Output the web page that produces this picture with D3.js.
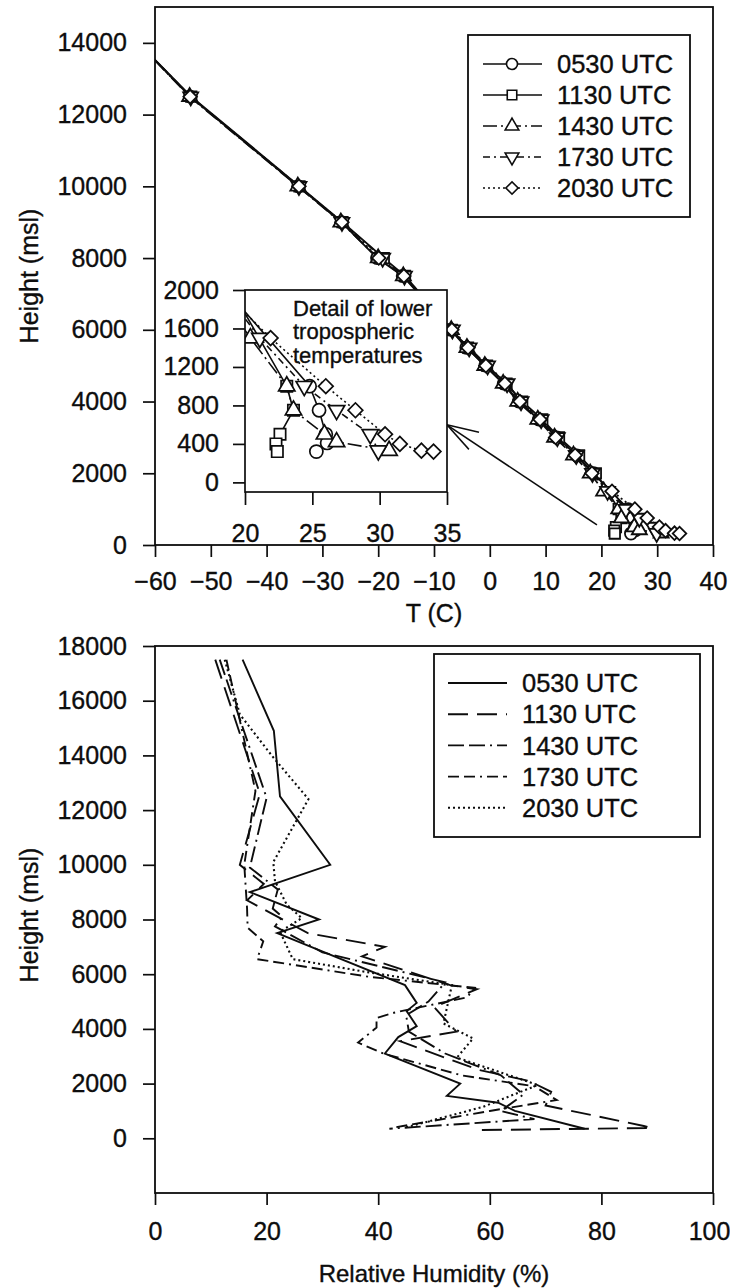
<!DOCTYPE html>
<html><head><meta charset="utf-8">
<script src="https://cdn.jsdelivr.net/npm/d3@7"></script>
<style>
body{margin:0;background:#fff}
svg{display:block}
text{font-family:"Liberation Sans",Arial,sans-serif;fill:#0d0d0d;stroke:#0d0d0d;stroke-width:0.35px}
</style>
</head><body>
<svg id="c" width="730" height="1288"></svg>
<script>
// ---------------- DATA ----------------
const seriesNames = ["0530 UTC", "1130 UTC", "1430 UTC", "1730 UTC", "2030 UTC"];
const seriesSymbols = ["circle", "square", "triangle", "triDown", "diamond"];

// Temperature profiles: [T (C), height (m msl)]
const temp0530 = [[-63,14000],[-53.7,12500],[-34.3,10000],[-26.6,9000],[-20.2,8000],[-15.6,7500],[-7.0,6000],[-4.2,5500],[-0.8,5000],[2.5,4500],[5.2,4000],[8.8,3500],[12.0,3000],[15.6,2500],[18.6,2000],[24.8,1000],[25.5,750],[26.0,500],[26.1,410],[25.3,320]];
const temp1130 = [[-63,14000],[-53.5,12500],[-34.1,10000],[-26.4,9000],[-19.0,8000],[-15.2,7500],[-6.8,6000],[-3.9,5500],[-0.5,5000],[3.0,4500],[5.8,4000],[9.4,3500],[12.4,3000],[16.0,2500],[19.0,2000],[23.1,1000],[23.6,750],[22.6,500],[22.3,400],[22.4,320]];
const temp1430 = [[-63,14000],[-53.8,12500],[-34.4,10000],[-26.7,9000],[-20.0,8000],[-15.5,7500],[-6.9,6000],[-4.1,5500],[-0.9,5000],[2.4,4500],[5.0,4000],[8.6,3500],[11.6,3000],[15.0,2500],[18.0,2000],[20.4,1500],[23.1,1000],[23.6,750],[25.9,500],[26.8,420],[30.7,330]];
const temp1730 = [[-63,14000],[-53.6,12500],[-34.2,10000],[-26.5,9000],[-19.2,8000],[-15.3,7500],[-6.7,6000],[-3.7,5500],[-0.4,5000],[3.1,4500],[5.6,4000],[9.2,3500],[12.1,3000],[15.5,2500],[18.4,2000],[21.1,1500],[24.4,1000],[26.8,750],[29.3,500],[29.9,330]];
const temp2030 = [[-63,14000],[-53.7,12500],[-34.2,10000],[-26.5,9000],[-19.9,8000],[-15.4,7500],[-6.8,6000],[-3.9,5500],[-0.7,5000],[2.7,4500],[5.4,4000],[9.0,3500],[11.8,3000],[15.3,2500],[18.3,2000],[21.9,1500],[26.0,1000],[28.2,750],[30.4,500],[31.5,400],[33.1,330],[34.0,320]];

// Relative humidity profiles: [RH (%), height (m msl)]
const rh0530 = [[15.7,17500],[21.3,14900],[22.4,12500],[31.4,10000],[17.0,9000],[29.4,8000],[21.9,7500],[44.8,5600],[46.9,4950],[45.1,4650],[46.9,4100],[43.6,3700],[41.2,3100],[54.7,2000],[52.3,1550],[61.5,1300],[64.5,1000],[77.0,350]];
const rh1130 = [[10.8,17500],[18.8,12600],[15.2,10000],[19.5,9300],[16.5,8700],[27.4,7500],[41.2,7000],[37.1,6650],[52.9,5600],[57.7,5450],[50.0,4800],[54.0,3900],[43.9,3550],[58.0,2500],[67.0,2100],[71.0,1700],[70.0,1200],[87.6,450],[89.0,380],[58.0,300]];
const rh1430 = [[11.6,17500],[20.0,12450],[17.0,9900],[22.0,9100],[21.1,8400],[22.8,8100],[21.5,7750],[30.0,6800],[52.0,5700],[49.0,5000],[45.0,4500],[45.5,3900],[52.0,3100],[62.0,2300],[66.0,1600],[62.0,1000],[68.0,700],[42.0,350]];
const rh1730 = [[12.8,17500],[18.0,12700],[16.0,10000],[16.5,8400],[16.6,7700],[19.4,7200],[18.3,6550],[38.5,5900],[57.3,5500],[55.9,5150],[43.0,4600],[39.7,4400],[39.7,4050],[36.4,3500],[40.9,3100],[55.0,2300],[68.0,1900],[72.0,1400],[60.0,1000],[42.5,380]];
const rh2030 = [[12.5,17500],[15.2,15500],[20.9,14000],[27.5,12400],[21.2,10100],[21.5,9400],[23.6,8550],[26.3,8050],[22.4,7550],[24.7,6550],[37.3,6100],[53.2,5600],[51.7,4200],[57.0,3650],[54.1,2950],[68.6,1950],[58.8,1150],[45.0,400]];

// Tick labels
const tempXTicks = [-60,-50,-40,-30,-20,-10,0,10,20,30,40];
const tempYTicks = [0,2000,4000,6000,8000,10000,12000,14000];
const insetXTicks = [20,25,30,35];
const insetYTicks = [0,400,800,1200,1600,2000];
const rhXTicks = [0,20,40,60,80,100];
const rhYTicks = [0,2000,4000,6000,8000,10000,12000,14000,16000,18000];

const insetText = ["Detail of lower", "tropospheric", "temperatures"];

// ---------------- DRAWING ----------------
const tempData = [temp0530, temp1130, temp1430, temp1730, temp2030];
const rhData = [rh0530, rh1130, rh1430, rh1730, rh2030];
const tempDash = [null, null, "14,4,2,4", "7,4,2,4", "2,3"];
const rhDash = [null, "20,9", "16,5,16,5,2,5", "11,5,11,5,2,5", "2,3"];
const ink = "#0d0d0d";
const FS = 25;

const svg = d3.select("#c");

function symbolPath(kind, size) {
  const t = {circle:d3.symbolCircle, square:d3.symbolSquare, triangle:d3.symbolTriangle,
             triDown:d3.symbolTriangle, diamond:d3.symbolSquare}[kind];
  const s = {circle:size, square:size*0.95, triangle:size*0.85, triDown:size*0.85, diamond:size*0.8}[kind];
  return d3.symbol().type(t).size(s)();
}
function symbolRot(kind){ return kind==="triDown"?180:(kind==="diamond"?45:0); }

function styleAxis(g, fs) {
  g.select(".domain").remove();
  g.selectAll(".tick line").attr("stroke", ink).attr("stroke-width", 1.7);
  g.selectAll(".tick text").attr("font-size", fs).attr("fill", ink)
    .style("font-family", '"Liberation Sans",Arial,sans-serif');
}

// ===== TOP CHART =====
const tx = d3.scaleLinear().domain([-60,40]).range([155,713]);
const ty = d3.scaleLinear().domain([0,15000]).range([545,7]);

svg.append("clipPath").attr("id","clipTop").append("rect")
  .attr("x",tx.range()[0]).attr("y",ty.range()[1])
  .attr("width",tx.range()[1]-tx.range()[0]).attr("height",ty.range()[0]-ty.range()[1]);

const topPlot = svg.append("g").attr("clip-path","url(#clipTop)");
const tLine = d3.line().x(d=>tx(d[0])).y(d=>ty(d[1]));
tempData.forEach((s,i)=>{
  topPlot.append("path").attr("d",tLine(s)).attr("fill","none")
    .attr("stroke",ink).attr("stroke-width",1.8)
    .attr("stroke-dasharray",tempDash[i]);
});
tempData.forEach((s,i)=>{
  topPlot.selectAll(null).data(s).enter().append("path")
    .attr("d",symbolPath(seriesSymbols[i],115))
    .attr("transform",d=>`translate(${tx(d[0])},${ty(d[1])}) rotate(${symbolRot(seriesSymbols[i])})`)
    .attr("fill","#fff").attr("stroke",ink).attr("stroke-width",1.8);
});

svg.append("rect").attr("x",155).attr("y",7).attr("width",558).attr("height",538)
  .attr("fill","none").attr("stroke",ink).attr("stroke-width",1.8);

svg.append("g").attr("transform",`translate(0,${ty.range()[0]})`)
  .call(d3.axisBottom(tx).tickValues(tempXTicks).tickSize(12).tickPadding(15).tickFormat(d3.format("d")))
  .call(g=>styleAxis(g,FS));
svg.append("g").attr("transform",`translate(${tx.range()[0]},0)`)
  .call(d3.axisLeft(ty).tickValues(tempYTicks).tickSize(12).tickPadding(16).tickFormat(d3.format("d")))
  .call(g=>styleAxis(g,FS));

svg.append("text").attr("x",434).attr("y",622).attr("text-anchor","middle")
  .attr("font-size",FS).text("T (C)");
svg.append("text").attr("transform","translate(38,276) rotate(-90)").attr("text-anchor","middle")
  .attr("font-size",FS).text("Height (msl)");

// Legend (top)
const lgT = svg.append("g");
lgT.append("rect").attr("x",468).attr("y",35).attr("width",222).attr("height",182)
  .attr("fill","#fff").attr("stroke",ink).attr("stroke-width",1.8);
seriesNames.forEach((n,i)=>{
  const y = 64 + i*31;
  lgT.append("line").attr("x1",483).attr("x2",542).attr("y1",y).attr("y2",y)
    .attr("stroke",ink).attr("stroke-width",1.7).attr("stroke-dasharray",tempDash[i]);
  lgT.append("path").attr("d",symbolPath(seriesSymbols[i],95))
    .attr("transform",`translate(512,${y}) rotate(${symbolRot(seriesSymbols[i])})`)
    .attr("fill","#fff").attr("stroke",ink).attr("stroke-width",1.6);
  lgT.append("text").attr("x",557).attr("y",y).attr("dy","0.36em")
    .attr("font-size",FS+0.5).text(n);
});

// Arrow pointing from cluster to inset
const arrowStart = [19.2, 560], arrowTip = [-7.7, 3350];
{
  const x1 = tx(arrowStart[0]), y1 = ty(arrowStart[1]);
  const x2 = tx(arrowTip[0]), y2 = ty(arrowTip[1]);
  svg.append("line").attr("x1",x1).attr("y1",y1).attr("x2",x2).attr("y2",y2)
    .attr("stroke",ink).attr("stroke-width",1.6);
  const a = Math.atan2(y1-y2, x1-x2);
  [-0.36, 0.25].forEach(da=>{
    svg.append("line").attr("x1",x2).attr("y1",y2)
      .attr("x2",x2+33*Math.cos(a+da)).attr("y2",y2+33*Math.sin(a+da))
      .attr("stroke",ink).attr("stroke-width",1.5);
  });
}

// ===== INSET =====
const ix = d3.scaleLinear().domain([20,35]).range([245,447]);
const iy = d3.scaleLinear().domain([-100,2000]).range([492,290]);
svg.append("rect").attr("x",245).attr("y",290).attr("width",202).attr("height",202).attr("fill","#fff");
svg.append("clipPath").attr("id","clipIn").append("rect")
  .attr("x",245).attr("y",290).attr("width",202).attr("height",202);
const inPlot = svg.append("g").attr("clip-path","url(#clipIn)");
const iLine = d3.line().x(d=>ix(d[0])).y(d=>iy(d[1]));
tempData.forEach((s,i)=>{
  inPlot.append("path").attr("d",iLine(s)).attr("fill","none")
    .attr("stroke",ink).attr("stroke-width",1.6).attr("stroke-dasharray",tempDash[i]);
});
tempData.forEach((s,i)=>{
  inPlot.selectAll(null).data(s).enter().append("path")
    .attr("d",symbolPath(seriesSymbols[i],135))
    .attr("transform",d=>`translate(${ix(d[0])},${iy(d[1])}) rotate(${symbolRot(seriesSymbols[i])})`)
    .attr("fill","#fff").attr("stroke",ink).attr("stroke-width",1.7);
});
insetText.forEach((t,k)=>{
  svg.append("text").attr("x",293).attr("y",308+k*23.5).attr("dy","0.36em")
    .attr("font-size",22).text(t);
});
svg.append("rect").attr("x",245).attr("y",290).attr("width",202).attr("height",202)
  .attr("fill","none").attr("stroke",ink).attr("stroke-width",1.7);
svg.append("g").attr("transform","translate(0,492)")
  .call(d3.axisBottom(ix).tickValues(insetXTicks).tickSize(13).tickPadding(19).tickFormat(d3.format("d")))
  .call(g=>styleAxis(g,FS));
svg.append("g").attr("transform","translate(245,0)")
  .call(d3.axisLeft(iy).tickValues(insetYTicks).tickSize(12).tickPadding(14).tickFormat(d3.format("d")))
  .call(g=>styleAxis(g,FS));

// ===== BOTTOM CHART =====
const rx = d3.scaleLinear().domain([0,100]).range([155,713]);
const ry = d3.scaleLinear().domain([-2000,18000]).range([1193,646]);
svg.append("clipPath").attr("id","clipBot").append("rect")
  .attr("x",155).attr("y",646).attr("width",558).attr("height",547);
const botPlot = svg.append("g").attr("clip-path","url(#clipBot)");
const rLine = d3.line().x(d=>rx(d[0])).y(d=>ry(d[1]));
rhData.forEach((s,i)=>{
  botPlot.append("path").attr("d",rLine(s)).attr("fill","none")
    .attr("stroke",ink).attr("stroke-width",i===4?2.1:1.9).attr("stroke-dasharray",rhDash[i]);
});
svg.append("rect").attr("x",155).attr("y",646).attr("width",558).attr("height",547)
  .attr("fill","none").attr("stroke",ink).attr("stroke-width",1.8);
svg.append("g").attr("transform","translate(0,1193)")
  .call(d3.axisBottom(rx).tickValues(rhXTicks).tickSize(12).tickPadding(17).tickFormat(d3.format("d")))
  .call(g=>styleAxis(g,FS))
  .call(g=>g.selectAll(".tick text").filter(d=>d===100).attr("dx",-4));
svg.append("g").attr("transform","translate(155,0)")
  .call(d3.axisLeft(ry).tickValues(rhYTicks).tickSize(12).tickPadding(16).tickFormat(d3.format("d")))
  .call(g=>styleAxis(g,FS));
svg.append("text").attr("x",434).attr("y",1282).attr("text-anchor","middle")
  .attr("font-size",FS-1).text("Relative Humidity (%)");
svg.append("text").attr("transform","translate(38,915) rotate(-90)").attr("text-anchor","middle")
  .attr("font-size",FS).text("Height (msl)");

// Legend (bottom)
const lgB = svg.append("g");
lgB.append("rect").attr("x",434).attr("y",654).attr("width",266).attr("height",183)
  .attr("fill","#fff").attr("stroke",ink).attr("stroke-width",1.8);
seriesNames.forEach((n,i)=>{
  const y = 683 + i*31.2;
  lgB.append("line").attr("x1",448).attr("x2",507).attr("y1",y).attr("y2",y)
    .attr("stroke",ink).attr("stroke-width",1.9).attr("stroke-dasharray",rhDash[i]);
  lgB.append("text").attr("x",522).attr("y",y).attr("dy","0.36em")
    .attr("font-size",FS+0.5).text(n);
});
</script>
</body></html>
